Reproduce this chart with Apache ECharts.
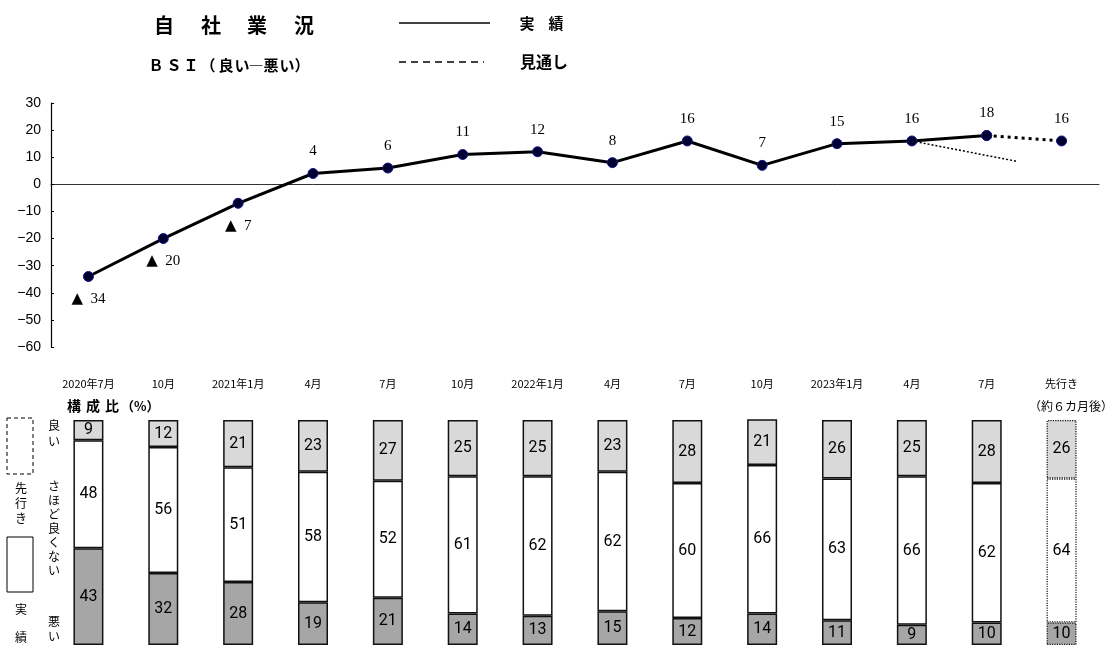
<!DOCTYPE html>
<html>
<head>
<meta charset="utf-8">
<script src="https://cdn.jsdelivr.net/npm/echarts@6/dist/echarts.min.js"></script>
<style>
  html, body { margin: 0; padding: 0; background: #fff; }
  #chart { width: 1115px; height: 646px; }
</style>
</head>
<body>
<div id="chart"></div>
<script>
// 自社業況 BSI（良い－悪い）と構成比
const categories = ['2020年7月', '10月', '2021年1月', '4月', '7月', '10月', '2022年1月', '4月', '7月', '10月', '2023年1月', '4月', '7月', '先行き'];
const bsiActual = [-34, -20, -7, 4, 6, 11, 12, 8, 16, 7, 15, 16, 18, null];
const bsiOutlook = [null, null, null, null, null, null, null, null, null, null, null, null, 18, 16];
const prevOutlook = [[11, 16], [12.4, 8.5]];
const shareGood = [9, 12, 21, 23, 27, 25, 25, 23, 28, 21, 26, 25, 28, 26];
const shareNeutral = [48, 56, 51, 58, 52, 61, 62, 62, 60, 66, 63, 66, 62, 64];
const shareBad = [43, 32, 28, 19, 21, 14, 13, 15, 12, 14, 11, 9, 10, 10];
const yTicks = { min: -60, max: 30, interval: 10 };

const SANS = '"Noto Sans CJK JP", "Noto Sans", sans-serif';
const SERIF = '"Liberation Serif", "DejaVu Serif", serif';
const NARROW = '"Liberation Sans Narrow", Roboto, "Noto Sans", sans-serif';
const LAST = categories.length - 1;

function segment(values, color) {
  return values.map((v, i) => ({
    value: v,
    itemStyle: {
      color: color,
      borderColor: '#111',
      borderWidth: i === LAST ? 1.2 : 1.5,
      borderType: i === LAST ? 'dotted' : 'solid'
    }
  }));
}

const barLabel = {
  show: true,
  position: 'inside',
  color: '#000',
  fontSize: 16,
  fontFamily: NARROW
};

function txt(x, y, s, font, align) {
  return { type: 'text', x: x, y: y,
    style: { text: s, font: font, fill: '#000', textAlign: align || 'center', textVerticalAlign: 'middle' } };
}

const graphics = [];
// heading
[['自', 164], ['社', 211], ['業', 257], ['況', 304]].forEach(([ch, x]) => graphics.push(txt(x, 25, ch, 'bold 20px ' + SANS)));
[['Ｂ', 156], ['Ｓ', 174], ['Ｉ', 191], ['（', 208], ['良', 226], ['い', 242], ['―', 256], ['悪', 271], ['い', 287], ['）', 302]]
  .forEach(([ch, x]) => graphics.push(txt(x, 65, ch, 'bold 15px ' + SANS)));
// line legend
graphics.push(
  { type: 'line', shape: { x1: 399, y1: 23, x2: 490, y2: 23 }, style: { stroke: '#000', lineWidth: 1.5 } },
  { type: 'line', shape: { x1: 399, y1: 62, x2: 484, y2: 62 }, style: { stroke: '#000', lineWidth: 1.5, lineDash: [7, 5] } },
  txt(527, 23, '実', 'bold 15px ' + SANS),
  txt(556, 23, '績', 'bold 15px ' + SANS),
  txt(520, 62, '見通し', 'bold 16px ' + SANS, 'left')
);
// composition caption
[['構', 74], ['成', 93], ['比', 112]].forEach(([ch, x]) => graphics.push(txt(x, 406, ch, 'bold 14px ' + SANS)));
graphics.push(
  txt(121, 406, '（%）', 'bold 13px ' + SANS, 'left'),
  txt(1113, 406, '（約６カ月後）', '12px ' + SANS, 'right'),
  { type: 'rect', shape: { x: 7, y: 418, width: 26, height: 56 }, style: { fill: 'none', stroke: '#000', lineWidth: 1, lineDash: [4, 3] } },
  { type: 'rect', shape: { x: 7, y: 537, width: 26, height: 55 }, style: { fill: 'none', stroke: '#000', lineWidth: 1 } }
);
// vertical captions
function vt(x, y, str, step) {
  return str.split('').map((ch, k) => txt(x, y + k * step, ch, '12px ' + SANS));
}
graphics.push(...vt(21, 488, '先行き', 15));
graphics.push(txt(21, 609, '実', '12px ' + SANS), txt(21, 637, '績', '12px ' + SANS));
graphics.push(...vt(54, 425, '良い', 16));
graphics.push(...vt(54, 486, 'さほど良くない', 14));
graphics.push(...vt(54, 621, '悪い', 15));

const chart = echarts.init(document.getElementById('chart'), null, { renderer: 'canvas' });

const pointStyle = { color: '#00002e', borderColor: '#14148a', borderWidth: 1 };
const valueLabel = {
  color: '#000', fontSize: 15, fontFamily: SERIF,
  rich: { tri: { fontSize: 15, fontFamily: '"DejaVu Sans", sans-serif', color: '#000' } }
};

chart.setOption({
  animation: false,
  backgroundColor: '#fff',
  textStyle: { fontFamily: SANS },
  grid: [
    { left: 51, right: 16, top: 103, height: 244 },
    { left: 51, right: 16, top: 420, height: 225 }
  ],
  xAxis: [
    {
      gridIndex: 0, type: 'category', data: categories, boundaryGap: true,
      axisLine: { show: true, onZero: true, lineStyle: { color: '#333', width: 1 } },
      axisTick: { show: false }, axisLabel: { show: false }, splitLine: { show: false }
    },
    { gridIndex: 0, type: 'value', min: -0.5, max: LAST + 0.5, show: false },
    {
      gridIndex: 1, type: 'category', data: categories, position: 'top', boundaryGap: true,
      offset: 26,
      axisLine: { show: false }, axisTick: { show: false },
      axisLabel: { color: '#000', fontSize: 11, fontFamily: SANS, margin: 5, interval: 0 }
    }
  ],
  yAxis: [
    {
      gridIndex: 0, type: 'value', min: yTicks.min, max: yTicks.max, interval: yTicks.interval,
      axisLine: { show: true, onZero: false, lineStyle: { color: '#000', width: 1.2 } },
      axisTick: { show: true, inside: true, length: 3, lineStyle: { color: '#000' } },
      splitLine: { show: false },
      axisLabel: {
        color: '#000', fontSize: 14, fontFamily: '"Liberation Sans", Arial, sans-serif', margin: 10,
        formatter: v => (v < 0 ? '−' + Math.abs(v) : String(v))
      }
    },
    { gridIndex: 1, type: 'value', min: 0, max: 100, show: false }
  ],
  series: [
    {
      type: 'line', xAxisIndex: 1, yAxisIndex: 0, data: prevOutlook,
      symbol: 'none', lineStyle: { color: '#000', width: 1.5, type: [2, 2] }, z: 2
    },
    {
      type: 'line', xAxisIndex: 0, yAxisIndex: 0, data: bsiOutlook,
      symbol: 'circle', symbolSize: 10, itemStyle: pointStyle,
      lineStyle: { color: '#000', width: 3, type: [3, 4] },
      label: Object.assign({ show: true, position: 'top', distance: 9,
        formatter: p => (p.dataIndex === LAST ? String(p.value) : '') }, valueLabel),
      z: 3
    },
    {
      type: 'line', xAxisIndex: 0, yAxisIndex: 0,
      // negative values sit below their points with a ▲ mark, positive values above
      data: bsiActual.map(v => (v === null ? null : {
        value: v,
        label: v < 0 ? { position: 'bottom', distance: 10 } : { position: 'top', distance: 9 }
      })),
      symbol: 'circle', symbolSize: 10, itemStyle: pointStyle,
      lineStyle: { color: '#000', width: 3 },
      label: Object.assign({ show: true,
        formatter: p => (p.value < 0 ? '{tri|▲}  ' + Math.abs(p.value) : String(p.value)) }, valueLabel),
      z: 4
    },
    {
      type: 'bar', xAxisIndex: 2, yAxisIndex: 1, stack: 'share', barWidth: 30,
      data: segment(shareBad, '#a6a6a6'), label: barLabel
    },
    {
      type: 'bar', xAxisIndex: 2, yAxisIndex: 1, stack: 'share', barWidth: 30,
      data: segment(shareNeutral, '#ffffff'), label: barLabel
    },
    {
      type: 'bar', xAxisIndex: 2, yAxisIndex: 1, stack: 'share', barWidth: 30,
      data: segment(shareGood, '#d9d9d9'), label: barLabel
    }
  ],
  graphic: graphics
});
</script>
</body>
</html>
